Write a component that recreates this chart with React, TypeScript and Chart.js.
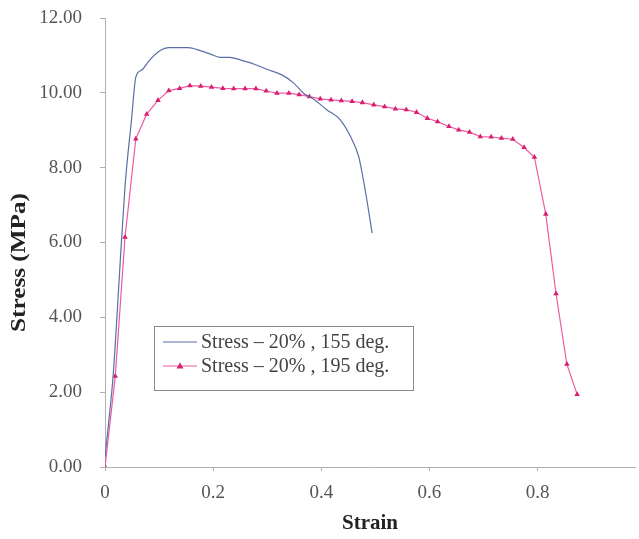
import React, { useEffect, useRef } from "react";
import { Chart, registerables } from "chart.js";

Chart.register(...registerables);

const blueLabel = "Stress – 20% , 155 deg.";
const pinkLabel = "Stress – 20% , 195 deg.";
const xTitle = "Strain";
const yTitle = "Stress (MPa)";

const blueStrain = [0, 0.009, 0.015, 0.031, 0.038, 0.049, 0.057, 0.068, 0.083, 0.102, 0.117, 0.154, 0.176, 0.194, 0.213, 0.231, 0.25, 0.275, 0.299, 0.327, 0.349, 0.367, 0.386, 0.41, 0.435, 0.454, 0.469, 0.481, 0.494];
const blueStress = [0.27, 1.5, 2.43, 6.15, 7.67, 9.28, 10.42, 10.61, 10.88, 11.13, 11.21, 11.21, 11.13, 11.04, 10.95, 10.95, 10.88, 10.77, 10.63, 10.48, 10.26, 9.99, 9.83, 9.55, 9.28, 8.83, 8.3, 7.41, 6.25];

const pinkStrain = [0, 0.019, 0.037, 0.057, 0.077, 0.098, 0.118, 0.138, 0.157, 0.177, 0.197, 0.218, 0.238, 0.259, 0.279, 0.298, 0.318, 0.34, 0.359, 0.378, 0.398, 0.418, 0.437, 0.457, 0.476, 0.497, 0.517, 0.537, 0.557, 0.576, 0.596, 0.615, 0.636, 0.654, 0.674, 0.694, 0.714, 0.733, 0.754, 0.775, 0.794, 0.815, 0.834, 0.854, 0.873];
const pinkStress = [0, 2.43, 6.14, 8.77, 9.43, 9.8, 10.06, 10.12, 10.19, 10.18, 10.15, 10.12, 10.11, 10.11, 10.11, 10.05, 9.99, 9.99, 9.95, 9.9, 9.84, 9.81, 9.79, 9.77, 9.74, 9.68, 9.63, 9.57, 9.55, 9.48, 9.32, 9.23, 9.1, 9.01, 8.95, 8.83, 8.82, 8.79, 8.76, 8.54, 8.28, 6.76, 4.63, 2.75, 1.94];

const yTicks = [0, 2, 4, 6, 8, 10, 12];
const xTicks = [0, 0.2, 0.4, 0.6, 0.8];

const BLUE = "#5b6fa6";
const PINK_LINE = "#ee5aa2";
const PINK_MARK = "#d81e72";
const SERIF = "'Liberation Serif', 'Times New Roman', serif";

const yTitlePlugin = {
  id: "stretchedYTitle",
  afterDraw(chart: any) {
    const { ctx, chartArea } = chart;
    ctx.save();
    ctx.translate(20, (chartArea.top + chartArea.bottom) / 2 + 20);
    ctx.rotate(-Math.PI / 2);
    ctx.scale(1.2, 1);
    ctx.font = `bold 21px ${SERIF}`;
    ctx.fillStyle = "#222222";
    ctx.textAlign = "center";
    ctx.textBaseline = "middle";
    ctx.fillText(yTitle, 0, 0);
    ctx.restore();
  },
};

const legendPlugin = {
  id: "insideLegend",
  afterDatasetsDraw(chart: any) {
    const { ctx, chartArea } = chart;
    const x0 = chartArea.left + 49;
    const y0 = chartArea.top + 308;
    const w = 259;
    const h = 64;
    ctx.save();
    ctx.fillStyle = "#ffffff";
    ctx.fillRect(x0, y0, w, h);
    ctx.strokeStyle = "#8a8a8a";
    ctx.lineWidth = 1;
    ctx.strokeRect(x0 + 0.5, y0 + 0.5, w, h);
    const rows = [
      { label: blueLabel, color: BLUE, marker: false, dy: 16 },
      { label: pinkLabel, color: PINK_LINE, marker: true, dy: 40 },
    ];
    ctx.font = `20px ${SERIF}`;
    ctx.textBaseline = "middle";
    for (const r of rows) {
      const y = y0 + r.dy;
      ctx.strokeStyle = r.color;
      ctx.lineWidth = 1.2;
      ctx.beginPath();
      ctx.moveTo(x0 + 9, y);
      ctx.lineTo(x0 + 43, y);
      ctx.stroke();
      if (r.marker) {
        const cx = x0 + 26;
        ctx.fillStyle = PINK_MARK;
        ctx.beginPath();
        ctx.moveTo(cx, y - 3.5);
        ctx.lineTo(cx + 3.5, y + 2.5);
        ctx.lineTo(cx - 3.5, y + 2.5);
        ctx.closePath();
        ctx.fill();
      }
      ctx.fillStyle = "#444444";
      ctx.fillText(r.label, x0 + 47, y + 1);
    }
    ctx.restore();
  },
};

export default function App() {
  const ref = useRef<HTMLCanvasElement | null>(null);
  useEffect(() => {
    if (!ref.current) return;
    const chart = new Chart(ref.current, {
      type: "line",
      data: {
        datasets: [
          {
            label: blueLabel,
            data: blueStrain.map((x, i) => ({ x, y: blueStress[i] })),
            borderColor: BLUE,
            backgroundColor: BLUE,
            borderWidth: 1.2,
            pointRadius: 0,
            cubicInterpolationMode: "monotone",
          },
          {
            label: pinkLabel,
            data: pinkStrain.map((x, i) => ({ x, y: pinkStress[i] })),
            borderColor: PINK_LINE,
            backgroundColor: PINK_MARK,
            borderWidth: 1.2,
            pointStyle: "triangle",
            pointRadius: 3.2,
            pointBorderWidth: 0,
            pointBackgroundColor: PINK_MARK,
            tension: 0,
          },
        ],
      },
      options: {
        responsive: false,
        animation: false,
        layout: { padding: { top: 18, right: 0, left: 0, bottom: 0 } },
        plugins: {
          legend: { display: false },
          tooltip: { enabled: false },
        },
        scales: {
          x: {
            type: "linear",
            min: 0,
            max: 0.98,
            afterFit: (s: any) => {
              s.height = 72;
              s.paddingLeft = 0;
              s.paddingRight = 0;
              s.paddingTop = 0;
              s.paddingBottom = 0;
            },
            afterBuildTicks: (s: any) => {
              s.ticks = xTicks.map((v) => ({ value: v }));
            },
            border: { display: true, color: "#b0b0b0", width: 1 },
            grid: { drawOnChartArea: false, drawTicks: true, tickLength: 4, color: "#b0b0b0" },
            ticks: {
              color: "#555555",
              padding: 11,
              font: { family: SERIF, size: 19 },
              callback: (v: any) => String(Math.round(Number(v) * 10) / 10),
            },
            title: {
              display: true,
              text: xTitle,
              color: "#222222",
              font: { family: SERIF, size: 21, weight: "bold" },
              padding: { top: 0, bottom: 3 },
            },
          },
          y: {
            type: "linear",
            min: 0,
            max: 12,
            afterFit: (s: any) => {
              s.width = 105;
              s.paddingLeft = 0;
              s.paddingRight = 0;
              s.paddingTop = 0;
              s.paddingBottom = 0;
            },
            afterBuildTicks: (s: any) => {
              s.ticks = yTicks.map((v) => ({ value: v }));
            },
            border: { display: true, color: "#b0b0b0", width: 1 },
            grid: { drawOnChartArea: false, drawTicks: true, tickLength: 5, color: "#b0b0b0" },
            ticks: {
              color: "#555555",
              padding: 18,
              font: { family: SERIF, size: 19 },
              callback: (v: any) => Number(v).toFixed(2),
            },
            title: { display: false },
          },
        },
      },
      plugins: [legendPlugin, yTitlePlugin],
    });
    return () => chart.destroy();
  }, []);
  return (
    <div style={{ position: "absolute", left: 0, top: 0, width: 639, height: 539, background: "#fff" }}>
      <canvas ref={ref} width={639} height={539} style={{ display: "block" }} />
    </div>
  );
}
